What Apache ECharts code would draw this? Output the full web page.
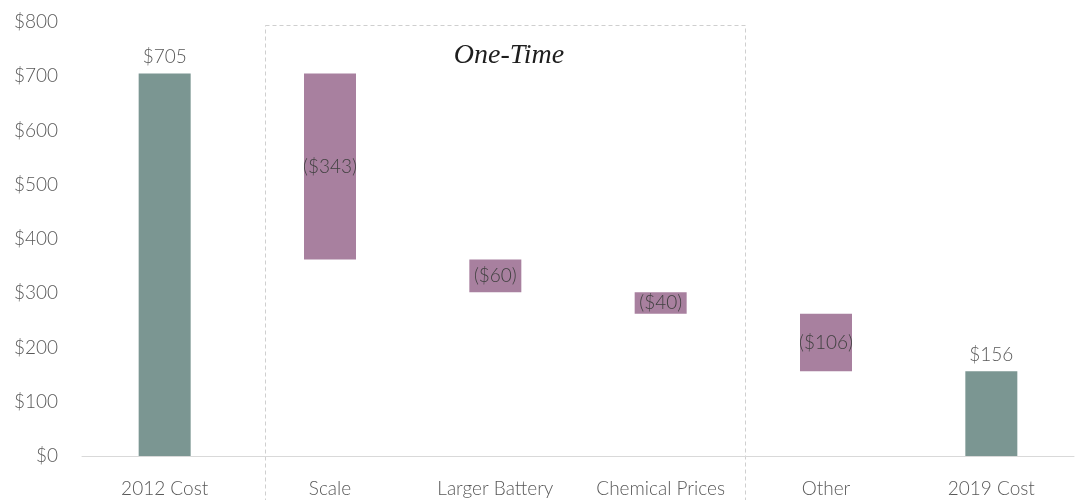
<!DOCTYPE html>
<html>
<head>
<meta charset="utf-8">
<script src="https://cdn.jsdelivr.net/npm/echarts@6/dist/echarts.min.js"></script>
<style>
  html, body { margin: 0; padding: 0; background: #fff; }
  #chart { width: 1078px; height: 500px; }
</style>
</head>
<body>
<div id="chart"></div>
<script>
// Battery pack cost bridge, 2012 to 2019 ($/kWh)
const categories = ['2012 Cost', 'Scale', 'Larger Battery', 'Chemical Prices', 'Other', '2019 Cost'];
const changes = [705, -343, -60, -40, -106, 156];   // first and last entries are totals
const isTotal = [true, false, false, false, false, true];
const yTicks = { min: 0, max: 800, step: 100 };

const TEAL = '#7b9692';
const MAUVE = '#a8809f';
const TEXT = '#595959';

// Build invisible base + visible segment for each step of the bridge
const base = [];
const segment = [];
let level = 0;
changes.forEach((v, i) => {
  if (isTotal[i]) {
    base.push(0);
    segment.push({ value: v, itemStyle: { color: TEAL } });
    level = v;
  } else {
    const next = level + v;
    base.push(Math.min(level, next));
    segment.push({ value: Math.abs(v), delta: v, itemStyle: { color: MAUVE } });
    level = next;
  }
});

const fmt = v => '$' + v;
const fmtDelta = v => '($' + Math.abs(v) + ')';

const chart = echarts.init(document.getElementById('chart'));
chart.setOption({
  animation: false,
  textStyle: { fontFamily: 'Lato', fontWeight: 300 },
  grid: { left: 82, right: 4, top: 22, bottom: 44 },
  xAxis: {
    type: 'category',
    data: categories,
    axisLine: { lineStyle: { color: '#d9d9d9', width: 1 } },
    axisTick: { show: false },
    axisLabel: { color: TEXT, fontSize: 19, margin: 23, interval: 0, fontFamily: 'Lato', fontWeight: 300 }
  },
  yAxis: {
    type: 'value',
    min: yTicks.min,
    max: yTicks.max,
    interval: yTicks.step,
    axisLine: { show: false },
    axisTick: { show: false },
    splitLine: { show: false },
    axisLabel: { color: TEXT, fontSize: 19, margin: 24, formatter: fmt, fontFamily: 'Lato', fontWeight: 300 }
  },
  series: [
    {
      type: 'bar',
      stack: 'bridge',
      barWidth: 52,
      itemStyle: { color: 'transparent' },
      emphasis: { disabled: true },
      data: base
    },
    {
      type: 'bar',
      stack: 'bridge',
      barWidth: 52,
      data: segment.map((d, i) => Object.assign({}, d, {
        label: isTotal[i]
          ? { show: true, position: 'top', distance: 7, color: TEXT, fontSize: 19, formatter: () => fmt(d.value) }
          : { show: true, position: 'inside', color: '#404040', fontSize: 19, formatter: () => fmtDelta(d.delta) }
      })),
      label: { fontFamily: 'Lato', fontWeight: 300 }
    }
  ],
  graphic: [
    {
      type: 'rect',
      shape: { x: 265.5, y: 25.5, width: 480, height: 490 },
      style: { fill: 'none', stroke: '#cfcfcf', lineWidth: 1, lineDash: [4, 3] },
      silent: true
    },
    {
      type: 'text',
      x: 509,
      y: 56,
      style: {
        text: 'One-Time',
        font: 'italic 28px "Liberation Serif", serif',
        fill: '#1e1e1e',
        align: 'center',
        verticalAlign: 'middle'
      },
      silent: true
    }
  ]
});
</script>
</body>
</html>
